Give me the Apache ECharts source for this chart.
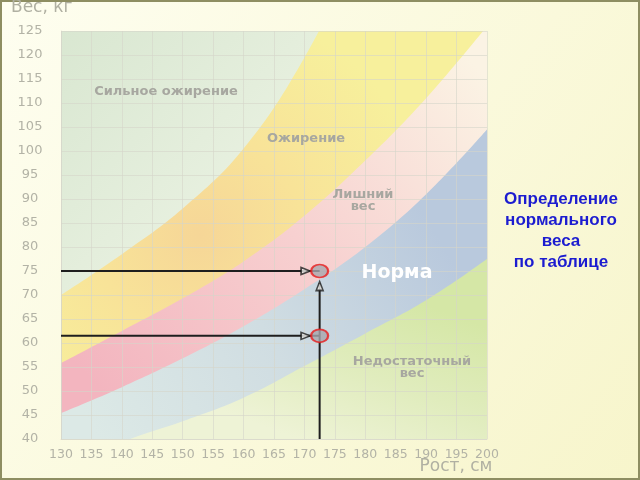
<!DOCTYPE html>
<html>
<head>
<meta charset="utf-8">
<script src="https://cdn.jsdelivr.net/npm/echarts@6/dist/echarts.min.js"></script>
<style>
html,body{margin:0;padding:0;background:#fcfbe0;}
#chart{width:640px;height:480px;}
</style>
</head>
<body>
<div id="chart"></div>
<script>
// Heights (cm) at which the band boundaries were read
const heights = [130, 140, 150, 160, 170, 180, 190, 200];
// Upper boundary of each zone (kg)
const underweightTop = [33, 39.3, 43.7, 48.6, 55.2, 62, 68.9, 77.5];
const normalTop      = [45.4, 50.8, 56.8, 63.5, 71.2, 80, 91, 104.5];
const overweightTop  = [55.8, 62.5, 69.3, 77, 86.5, 98, 111, 126];
const obeseTop       = [70, 78.5, 88, 100.5, 119.5, 145, 172, 200];

// Example: a person of given height, weights marked
const exampleHeight = 172.5;
const exampleWeights = [75, 61.5];

// Axis ticks
const xMin = 130, xMax = 200, xStep = 5;
const yMin = 40, yMax = 125, yStep = 5;

const zoneLabels = ['Сильное ожирение', 'Ожирение', 'Лишний\nвес', 'Норма', 'Недостаточный\nвес'];

function pts(ys) { return heights.map((h, i) => [h, ys[i]]); }
function lg(x, y, x2, y2, c1, c2, c3) {
  const stops = c3 ? [{offset:0,color:c1},{offset:0.5,color:c2},{offset:1,color:c3}]
                   : [{offset:0,color:c1},{offset:1,color:c2}];
  return {type:'linear', x:x, y:y, x2:x2, y2:y2, global:true, colorStops:stops};
}
function band(name, ys, color) {
  return {
    name: name, type: 'line', data: pts(ys), smooth: 0.4, symbol: 'none',
    clip: true, z: 2,
    lineStyle: {width: 0},
    areaStyle: {color: color, opacity: 1, origin: 'start'}
  };
}

const gridColor = 'rgba(214,214,202,0.6)';
const tickColor = '#b3b3a6';

const series = [
  band('obese', obeseTop, {type:'radial', x:200, y:235, r:230, global:true,
      colorStops:[{offset:0,color:'#f6d697'},{offset:0.45,color:'#f8e398'},{offset:1,color:'#f7f09c'}]}),
  band('over', overweightTop, lg(100, 390, 470, 60, '#f3b5bf', '#f7d0d0', '#fbf3e4')),
  band('normal', normalTop, lg(100, 440, 440, 240, '#dce9e6', '#d0dde2', '#b9c9dd')),
  band('under', underweightTop, lg(300, 440, 360, 280, '#eef3d6', '#e0ecbd', '#d5e7a6')),
];

// arrows
exampleWeights.forEach(w => {
  series.push({type:'line', data:[[xMin, w],[exampleHeight, w]], symbol:'none', z:5,
    lineStyle:{color:'#1e1e1e', width:2}, silent:true});
});
series.push({type:'line', data:[[exampleHeight, yMin],[exampleHeight, exampleWeights[0] - 2.5]], symbol:'none', z:5,
  lineStyle:{color:'#1e1e1e', width:2}, silent:true});
series.push({type:'scatter', data: exampleWeights.map(w => [exampleHeight, w]), z:6,
  symbol:'triangle', symbolRotate:-90, symbolSize:[7,9], symbolOffset:[-14,0],
  itemStyle:{color:'#f4f4f0', borderColor:'#1e1e1e', borderWidth:1.6}, silent:true});
series.push({type:'scatter', data: [[exampleHeight, exampleWeights[0]]], z:6,
  symbol:'triangle', symbolSize:[7,9], symbolOffset:[0,15],
  itemStyle:{color:'#f4f4f0', borderColor:'#1e1e1e', borderWidth:1.6}, silent:true});
series.push({type:'scatter', data: exampleWeights.map(w => [exampleHeight, w]), z:7,
  symbol:'circle', symbolSize:[17,13],
  itemStyle:{color:'#a9a6ad', borderColor:'#e81c1c', borderWidth:2}, silent:true});

const zoneStyle = {fill:'#a7a7a0', font:'bold 13px "DejaVu Sans"', textAlign:'center', textVerticalAlign:'middle', lineHeight:12};

const chart = echarts.init(document.getElementById('chart'), null, {renderer:'canvas'});
chart.setOption({
  backgroundColor: {type:'linear', x:0, y:0, x2:1, y2:1, colorStops:[{offset:0,color:'#fefef0'},{offset:1,color:'#f7f5cb'}]},
  animation: false,
  grid: {left:61, right:153, top:31, bottom:41, show:true, borderWidth:0,
    backgroundColor: {type:'linear', x:0, y:0, x2:1, y2:1, colorStops:[{offset:0,color:'#d9e7d1'},{offset:0.6,color:'#eff5e7'},{offset:1,color:'#f5f8ee'}]}},
  xAxis: {type:'value', min:xMin, max:xMax, interval:xStep, z:3,
    axisLine:{show:true, lineStyle:{color:gridColor}}, axisTick:{show:false},
    splitLine:{show:true, lineStyle:{color:gridColor, width:1}},
    axisLabel:{color:tickColor, fontSize:12.5, fontFamily:'DejaVu Sans', margin:9}},
  yAxis: {type:'value', min:yMin, max:yMax, interval:yStep, z:3,
    axisLine:{show:true, lineStyle:{color:gridColor}}, axisTick:{show:false},
    splitLine:{show:true, lineStyle:{color:gridColor, width:1}},
    axisLabel:{color:tickColor, fontSize:13, fontFamily:'DejaVu Sans', align:'center', margin:31}},
  series: series,
  graphic: [
    {type:'rect', z:100, shape:{x:1, y:1, width:638, height:478}, style:{fill:'none', stroke:'#8e8e62', lineWidth:2}, silent:true},
    {type:'text', z:100, x:11, y:8, style:{text:'Вес, кг', fill:'#b0b0a2', font:'17px "DejaVu Sans"', textVerticalAlign:'middle'}},
    {type:'text', z:100, x:456, y:467, style:{text:'Рост, см', fill:'#b0b0a2', font:'17px "DejaVu Sans"', textAlign:'center', textVerticalAlign:'middle'}},
    {type:'text', z:100, x:166, y:92, style:Object.assign({text:zoneLabels[0]}, zoneStyle)},
    {type:'text', z:100, x:306, y:139, style:Object.assign({text:zoneLabels[1]}, zoneStyle)},
    {type:'text', z:100, x:363, y:201, style:Object.assign({text:zoneLabels[2]}, zoneStyle)},
    {type:'text', z:100, x:397, y:273, style:{text:zoneLabels[3], fill:'#ffffff', font:'bold 19px "DejaVu Sans"', textAlign:'center', textVerticalAlign:'middle'}},
    {type:'text', z:100, x:412, y:368, style:Object.assign({text:zoneLabels[4]}, zoneStyle)},
    {type:'text', z:100, x:561, y:189, style:{text:'Определение\nнормального\nвеса\nпо таблице', fill:'#1c1cd0', font:'bold 17px "Liberation Sans"', textAlign:'center', textVerticalAlign:'top', lineHeight:21}}
  ]
});
</script>
</body>
</html>
